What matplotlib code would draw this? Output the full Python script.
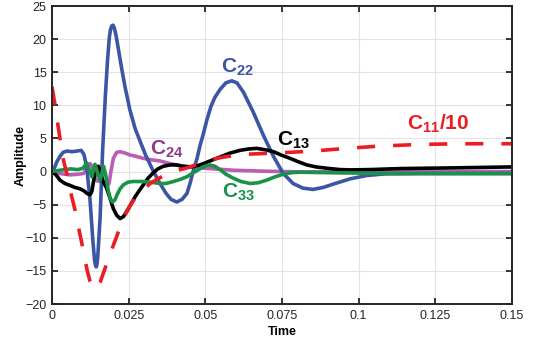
import numpy as np
import matplotlib
matplotlib.use("Agg")
import matplotlib.pyplot as plt

plt.rcParams['font.family'] = ['Liberation Sans', 'DejaVu Sans']
plt.rcParams['mathtext.fontset'] = 'custom'
plt.rcParams['mathtext.bf'] = 'Liberation Sans:bold'
plt.rcParams['mathtext.rm'] = 'Liberation Sans:bold'

# ---- data (time in s, amplitude) ----
t_c22 = [0.0, 0.00065, 0.0016, 0.0026, 0.0036, 0.0049, 0.0065, 0.0082, 0.0095, 0.0104,
         0.0113, 0.0124, 0.0133, 0.0139, 0.0142, 0.0144, 0.0146, 0.0149, 0.0157, 0.0165,
         0.0174, 0.0181, 0.0187, 0.0191, 0.0195, 0.0199, 0.0203, 0.0209, 0.0216, 0.0227,
         0.0238, 0.0254, 0.0271, 0.0287, 0.0306, 0.0330, 0.0352, 0.0372, 0.0388, 0.0407,
         0.0424, 0.0440, 0.0450, 0.0461, 0.0473, 0.0482, 0.0494, 0.0505, 0.0518, 0.0531,
         0.0548, 0.0567, 0.0586, 0.0603, 0.0624, 0.0656, 0.0689, 0.0722, 0.0754, 0.0786,
         0.0818, 0.0851, 0.0884, 0.0917, 0.0972, 0.1026, 0.1086, 0.1200, 0.1350, 0.15]
v_c22 = [0.0, 0.4, 1.5, 2.3, 2.9, 3.1, 3.0, 3.1, 3.2, 2.6,
         0.7, -4.3, -10.3, -13.5, -14.2, -14.4, -14.2, -13.0, -6.8, 3.2,
         11.5, 16.8, 20.3, 21.5, 22.0, 22.1, 21.7, 20.5, 18.6, 15.6,
         12.8, 9.3, 6.5, 4.6, 2.4, 0.1, -1.8, -3.3, -4.2, -4.6,
         -4.2, -3.3, -1.8, 0.2, 2.0, 3.8, 5.8, 7.8, 9.8, 11.2,
         12.4, 13.4, 13.7, 13.4, 12.0, 9.0, 5.5, 2.3, -0.3, -1.8,
         -2.5, -2.7, -2.4, -1.9, -1.1, -0.6, -0.35, -0.3, -0.3, -0.3]

t_c13 = [0.0, 0.0013, 0.0026, 0.0042, 0.0059, 0.0075, 0.0091, 0.0104, 0.0114, 0.0124,
         0.0130, 0.0137, 0.0144, 0.0151, 0.0157, 0.0163, 0.0170, 0.0178, 0.0189, 0.0200,
         0.0211, 0.0222, 0.0233, 0.0244, 0.0254, 0.0271, 0.0287, 0.0298, 0.0313, 0.0330,
         0.0345, 0.0363, 0.0385, 0.0406, 0.0424, 0.0450, 0.0466, 0.0482, 0.0499, 0.0515,
         0.0548, 0.0581, 0.0613, 0.0639, 0.0668, 0.0694, 0.0722, 0.0747, 0.0776, 0.0802,
         0.0831, 0.0861, 0.0896, 0.0939, 0.0972, 0.1037, 0.1135, 0.1298, 0.15]
v_c13 = [0.0, -0.5, -1.3, -1.8, -2.1, -2.4, -2.6, -2.9, -3.3, -3.5,
         -3.0, -1.0, 0.4, 0.8, 0.2, -1.0, -1.8, -2.5, -4.0, -5.6,
         -6.6, -7.1, -6.8, -6.0, -5.2, -3.8, -2.7, -2.0, -1.0, -0.2,
         0.4, 0.8, 1.0, 1.0, 0.8, 0.7, 0.8, 1.0, 1.3, 1.6,
         2.2, 2.8, 3.2, 3.4, 3.5, 3.3, 3.0, 2.5, 2.0, 1.5,
         1.0, 0.7, 0.5, 0.3, 0.25, 0.3, 0.45, 0.55, 0.7]

t_c11 = [0.0, 0.0010, 0.0016, 0.0026, 0.0036, 0.0048, 0.0059, 0.0075, 0.0088, 0.0102,
         0.0114, 0.0124, 0.0132, 0.0140, 0.0157, 0.0170, 0.0184, 0.0197, 0.0211, 0.0222,
         0.0238, 0.0254, 0.0271, 0.0298, 0.0320, 0.0341, 0.0362, 0.0385, 0.0411, 0.0444,
         0.0474, 0.0505, 0.0548, 0.0590, 0.0629, 0.0700, 0.0776, 0.0851, 0.0961, 0.1070,
         0.1200, 0.1330, 0.15]
v_c11 = [12.8, 10.0, 8.0, 5.0, 2.0, -0.3, -2.8, -5.8, -8.8, -11.9,
         -14.8, -16.6, -17.5, -17.8, -16.7, -15.0, -13.2, -11.5, -9.8, -8.3,
         -6.6, -5.2, -4.0, -2.8, -1.8, -1.2, -0.7, -0.3, 0.2, 0.6,
         1.1, 1.6, 2.1, 2.4, 2.6, 2.75, 2.9, 3.1, 3.5, 3.85,
         4.1, 4.2, 4.2]

t_c24 = [0.0, 0.0026, 0.0059, 0.0085, 0.0102, 0.0111, 0.0117, 0.0124, 0.0130, 0.0137,
         0.0146, 0.0157, 0.0170, 0.0179, 0.0186, 0.0192, 0.0200, 0.0211, 0.0222, 0.0238,
         0.0254, 0.0274, 0.0297, 0.0320, 0.0352, 0.0385, 0.0407, 0.0434, 0.0461, 0.0482,
         0.0515, 0.0591, 0.0700, 0.0809, 0.1004, 0.1250, 0.15]
v_c24 = [0.0, -0.3, -0.5, -0.4, -0.3, 0.3, 1.0, 1.2, 0.8, -0.5,
         -1.4, -1.5, -1.8, -2.3, -1.8, 0.0, 2.0, 2.9, 3.0, 2.8,
         2.5, 2.3, 2.0, 1.8, 1.6, 1.2, 1.0, 0.8, 0.7, 0.55,
         0.45, 0.2, 0.05, -0.05, 0.0, 0.0, 0.0]

t_c33 = [0.0, 0.0026, 0.0059, 0.0085, 0.0101, 0.0113, 0.0121, 0.0130, 0.0135, 0.0140,
         0.0147, 0.0157, 0.0163, 0.0168, 0.0175, 0.0183, 0.0189, 0.0197, 0.0205, 0.0212,
         0.0222, 0.0233, 0.0248, 0.0265, 0.0297, 0.0320, 0.0352, 0.0372, 0.0396, 0.0417,
         0.0439, 0.0460, 0.0482, 0.0504, 0.0515, 0.0531, 0.0548, 0.0567, 0.0591, 0.0616,
         0.0646, 0.0672, 0.0700, 0.0727, 0.0754, 0.0783, 0.0809, 0.0939, 0.1135, 0.15]
v_c33 = [0.0, 0.2, 0.4, 0.3, 0.5, 1.3, 0.3, -0.8, 0.3, 1.1,
         0.0, -1.3, -0.2, 0.8, -0.5, -2.8, -4.0, -4.6, -4.3, -3.5,
         -2.6, -2.0, -1.6, -1.5, -1.5, -1.6, -1.8, -1.8, -1.5, -1.2,
         -0.8, -0.2, 0.4, 0.9, 1.0, 0.8, 0.3, -0.4, -1.0, -1.5,
         -1.8, -1.7, -1.3, -0.8, -0.4, -0.15, -0.1, -0.2, -0.3, -0.3]

xticks = [0, 0.025, 0.05, 0.075, 0.1, 0.125, 0.15]
xticklabels = ['0', '0.025', '0.05', '0.075', '0.1', '0.125', '0.15']
yticks = [-20, -15, -10, -5, 0, 5, 10, 15, 20, 25]

c_blue = '#3c56a5'
c_red = '#ec1c24'
c_green = '#1b924a'
c_mag = '#b85fb5'
c_mag_lbl = '#8e3a88'

fig = plt.figure(figsize=(5.33, 3.43), dpi=100)
ax = fig.add_axes([0.0976, 0.1137, 0.8630, 0.8688])

lw = 2.6
kw = dict(solid_capstyle='round', solid_joinstyle='round')
ax.plot(t_c24, v_c24, color=c_mag, lw=lw, zorder=2, **kw)
ax.plot(t_c22, v_c22, color=c_blue, lw=lw, zorder=3, **kw)
ax.plot(t_c13, v_c13, color='black', lw=lw, zorder=4, **kw)
ax.plot(t_c33, v_c33, color=c_green, lw=lw, zorder=5, **kw)
ax.plot(t_c11, v_c11, color=c_red, lw=lw, ls=(0, (5.0, 5.0)), zorder=6,
        dash_joinstyle='round')

ax.set_xlim(0, 0.15)
ax.set_ylim(-20, 25)
ax.set_xticks(xticks)
ax.set_xticklabels(xticklabels)
ax.set_yticks(yticks)
ax.grid(True, color='#e3e3e3', lw=0.8, zorder=0)
ax.set_axisbelow(True)
for s in ax.spines.values():
    s.set_linewidth(1.4)
    s.set_color('#262626')
    s.set_zorder(10)
ax.tick_params(direction='in', length=4, width=1.3, top=True, right=True,
               labelsize=9, colors='#262626', pad=4)
ax.set_xlabel('Time', fontsize=9, fontweight='bold', labelpad=3)
ax.set_ylabel('Amplitude', fontsize=9, fontweight='bold', labelpad=-1)

fs = 15
ax.text(0.0551, 14.9, r'$\mathbf{C_{22}}$', color=c_blue, fontsize=fs, zorder=12)
ax.text(0.0320, 2.5, r'$\mathbf{C_{24}}$', color=c_mag_lbl, fontsize=fs, zorder=12)
ax.text(0.0733, 3.85, r'$\mathbf{C_{13}}$', color='black', fontsize=fs, zorder=12)
ax.text(0.0553, -4.0, r'$\mathbf{C_{33}}$', color=c_green, fontsize=fs, zorder=12)
ax.text(0.1157, 6.3, r'$\mathbf{C_{11}}$/10', color=c_red, fontsize=fs,
        fontweight='bold', zorder=12)

fig.savefig('out.png', dpi=100)
